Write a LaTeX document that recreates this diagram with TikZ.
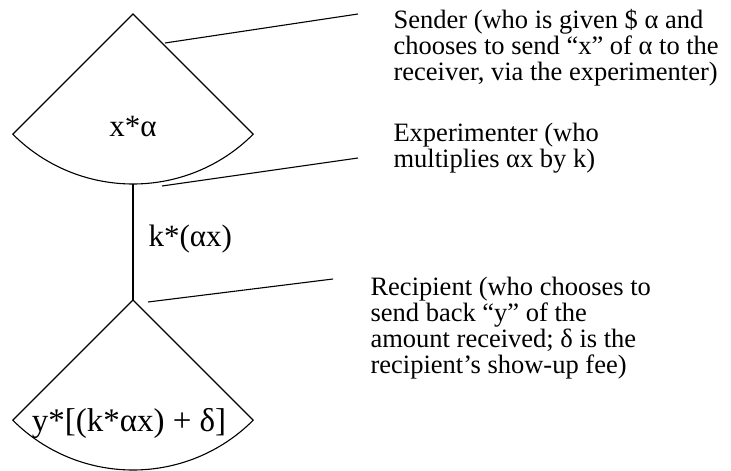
\documentclass[tikz,border=0pt]{standalone}
\usepackage{fontspec}
\setmainfont{Liberation Serif}
\usetikzlibrary{calc}

\begin{document}
\begin{tikzpicture}[x=1pt,y=1pt,line width=1.1pt,
    note/.style={anchor=base west, inner sep=0pt, align=left, font=\fontsize{26.5}{26}\selectfont},
    pay/.style={inner sep=0pt, font=\fontsize{31}{32}\selectfont}]
    \useasboundingbox (0,0) rectangle (731,471);
    % decision points
    \coordinate (sendtop) at (133,457);
    \coordinate (recvtop) at (133,171);
    \draw (sendtop) -- ++(-135:170) coordinate (sendleft)
        arc[start angle=-135, end angle=-45, radius=170] -- cycle;
    \coordinate (sendbot) at ($(sendtop)+(0,-170)$);
    \draw (recvtop) -- ++(-135:170) coordinate (recvleft)
        arc[start angle=-135, end angle=-45, radius=170] -- cycle;
    \draw (sendbot) -- (recvtop);
    % payoffs
    \node[pay, anchor=base] (sendpay) at (133,334) {x*α};
    \node[pay, anchor=base west] (transfer) at (148,224) {k*(αx)};
    \node[pay, anchor=base, font=\fontsize{33}{34}\selectfont] (recvpay) at (129,39) {y*[(k*αx) + δ]};
    % notes (anchored at the last line)
    \node[note] (sender) at (393,390) {Sender (who is given \$ α and\\chooses to send “x” of α to the\\receiver, via the experimenter)};
    \node[note] (experimenter) at (393,303) {Experimenter (who\\multiplies αx by k)};
    \node[note] (recipient) at (370,97) {Recipient (who chooses to\\send back “y” of the\\amount received; δ is the\\recipient’s show-up fee)};
    % leaders
    \coordinate (senderend) at (358,457);
    \coordinate (expend) at (358,313);
    \coordinate (recend) at (333,192);
    \draw (165,428) -- (senderend);
    \draw (162,285) -- (expend);
    \draw (148,169) -- (recend);
\end{tikzpicture}
\end{document}
